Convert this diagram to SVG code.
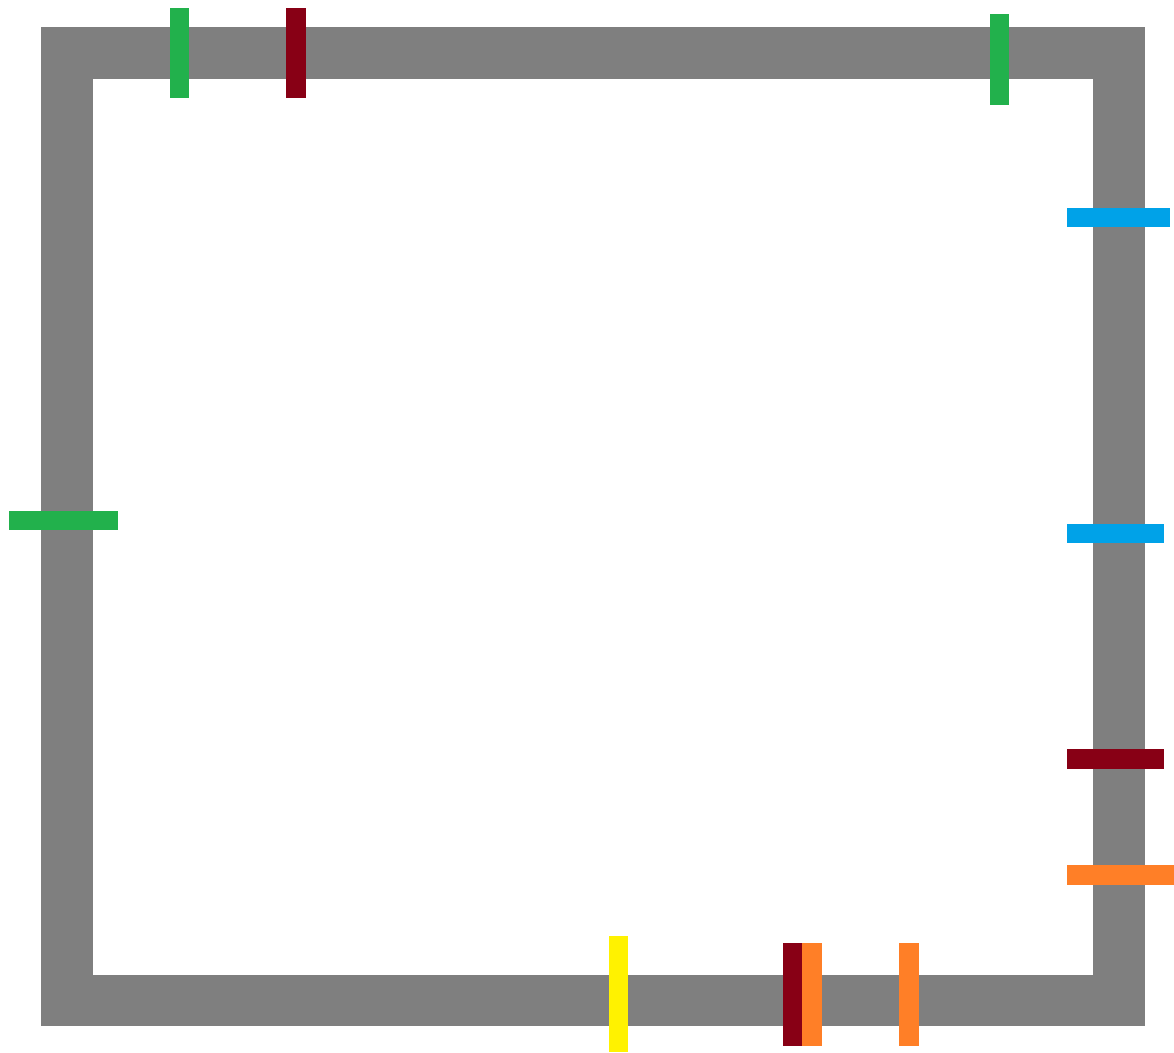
<svg xmlns="http://www.w3.org/2000/svg" width="1174" height="1053" viewBox="0 0 1174 1053">
<style>
.frame{fill:#7f7f7f;fill-rule:evenodd}
.g{fill:#22b14c}.r{fill:#880015}.b{fill:#00a2e8}.o{fill:#ff7f27}.y{fill:#fff200}
</style>
<rect width="1174" height="1053" fill="#ffffff"/>
<g id="frame"><path class="frame" d="M41 27H1145V1026H41Z M93 79V975H1093V79Z"/></g>
<g id="markers">
<rect id="top-green-1" class="g" x="170" y="8" width="19" height="90"/>
<rect id="top-red" class="r" x="286" y="8" width="20" height="90"/>
<rect id="top-green-2" class="g" x="990" y="14" width="19" height="91"/>
<rect id="right-blue-1" class="b" x="1067" y="208" width="103" height="19"/>
<rect id="left-green" class="g" x="9" y="511" width="109" height="19"/>
<rect id="right-blue-2" class="b" x="1067" y="524" width="97" height="19"/>
<rect id="right-red" class="r" x="1067" y="749" width="97" height="20"/>
<rect id="right-orange" class="o" x="1067" y="865" width="107" height="20"/>
<rect id="bottom-yellow" class="y" x="609" y="936" width="19" height="116"/>
<rect id="bottom-red" class="r" x="783" y="943" width="19" height="103"/>
<rect id="bottom-orange-1" class="o" x="802" y="943" width="20" height="103"/>
<rect id="bottom-orange-2" class="o" x="899" y="943" width="20" height="103"/>
</g>
</svg>
